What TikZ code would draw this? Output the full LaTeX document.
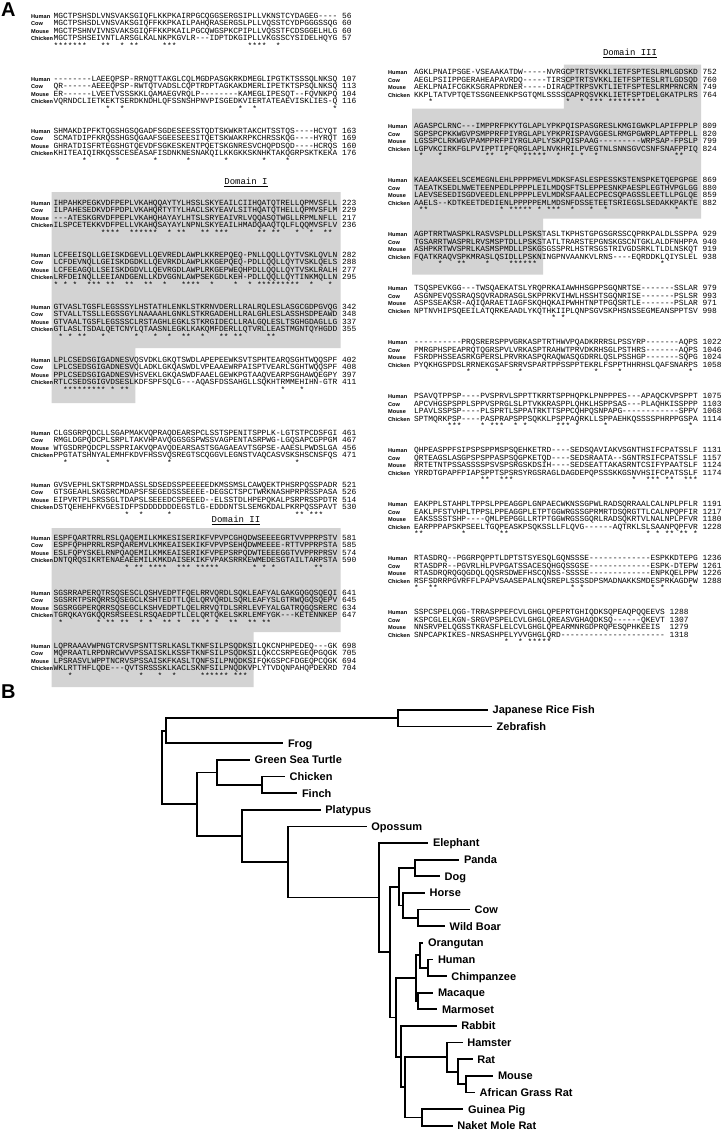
\documentclass[tikz,border=0pt]{standalone}
\usepackage{fontspec}
\setmainfont{Liberation Sans}
\setsansfont{Liberation Sans}
\setmonofont{Liberation Mono}
\usepackage{xcolor}
\definecolor{domaingray}{RGB}{211,211,211}

\newcommand{\seqfont}{\ttfamily\fontsize{7.88}{7.88}\selectfont}
\newcommand{\namefont}{\sffamily\bfseries\fontsize{5.6}{5.6}\selectfont}
\newcommand{\leaffont}{\sffamily\bfseries\fontsize{11}{11}\selectfont}
\newcommand{\domfont}{\ttfamily\fontsize{9}{9}\selectfont}
\newcommand{\panelfont}{\sffamily\bfseries\fontsize{20}{20}\selectfont}

% a star under every column where all four residues agree
\ExplSyntaxOn
\NewDocumentCommand \conserved { m m m m }
  {
    \int_step_inline:nn { \str_count:n {#1} }
      {
        \bool_if:nTF
          {
            \str_if_eq_p:ee { \str_item:nn {#1} {##1} } { \str_item:nn {#2} {##1} }
            && \str_if_eq_p:ee { \str_item:nn {#1} {##1} } { \str_item:nn {#3} {##1} }
            && \str_if_eq_p:ee { \str_item:nn {#1} {##1} } { \str_item:nn {#4} {##1} }
            && ! \str_if_eq_p:ee { \str_item:nn {#1} {##1} } { - }
          }
          { * }
          { \hphantom { * } }
      }
  }
\ExplSyntaxOff

\tikzset{
  seqtext/.style={anchor=base west, inner sep=0pt, yshift=-2.2pt, font=\seqfont},
  seqname/.style={anchor=base west, inner sep=0pt, yshift=-2pt, font=\namefont},
  domainhead/.style={inner sep=0pt, font=\domfont},
  panel/.style={anchor=base west, inner sep=0pt, font=\panelfont},
  leaf/.style={anchor=west, inner xsep=4.5pt, inner ysep=0pt, text height=7.9pt, text depth=0pt, font=\leaffont},
  branch/.style={line width=1.7pt}
}

\def\namegap{22.5}
\def\numgap{288.5}
% one block of the alignment: names, four sequences and the star line
\newcommand{\seqrows}[5]{%
  \node[seqname] (#1-lh) at (-\namegap,0) {Human};
  \node[seqname] (#1-lc) at (-\namegap,7.5) {Cow};
  \node[seqname] (#1-lm) at (-\namegap,15) {Mouse};
  \node[seqname] (#1-lk) at (-\namegap,22.5) {Chicken};
  \node[seqtext] (#1-h) at (0,0) {#2};
  \node[seqtext] (#1-c) at (0,7.5) {#3};
  \node[seqtext] (#1-m) at (0,15) {#4};
  \node[seqtext] (#1-k) at (0,22.5) {#5};
  \node[seqtext] (#1-s) at (0,30) {\conserved{#2}{#3}{#4}{#5}};
}
\newcommand{\seqnums}[5]{%
  \node[seqtext] (#1-nh) at (\numgap,0) {#2};
  \node[seqtext] (#1-nc) at (\numgap,7.5) {#3};
  \node[seqtext] (#1-nm) at (\numgap,15) {#4};
  \node[seqtext] (#1-nk) at (\numgap,22.5) {#5};
}

\begin{document}
\begin{tikzpicture}[x=1pt,y=-1pt]
  \path[use as bounding box] (0,0) rectangle (725,1130);

  % shaded domains
  \fill[domaingray] (51.5,192) -- (340.5,192) -- (340.5,348) -- (135.4,348) -- (135.4,403) -- (51.5,403) -- cycle;
  \fill[domaingray] (51.5,528) -- (340.5,528) -- (340.5,632) -- (253.7,632) -- (253.7,687) -- (51.5,687) -- cycle;
  \fill[domaingray] (563.9,64.5) -- (701,64.5) -- (701,218.5) -- (543.2,218.5) -- (543.2,274.5) -- (412,274.5) -- (412,108.5) -- (563.9,108.5) -- cycle;

  \node[panel] (panelA) at (1,16) {A};
  \node[domainhead] (dom1) at (246,182) {\underline{Domain I}};
  \node[domainhead] (dom2) at (236,520) {\underline{Domain II}};
  \node[domainhead] (dom3) at (630,53) {\underline{Domain III}};

  % left column
  \begin{scope}[shift={(53.5,16)}]
    \seqrows{b1}{MGCTPSHSDLVNSVAKSGIQFLKKPKAIRPGCQGGSERGSIPLLVKNSTCYDAGEG----}{MGCTPSHSDLVNSVAKSGIQFFKKPKAILPAHQRASERGSLPLLVQSSTCYDPGGGSSQG}{MGCTPSHNVIVNSVAKSGIQFFKKPKAILPGCQWGSPKCPIPLLVQSSTFCDSGGELHLG}{MGCTPSHSEIVNTLARSGLKALNKPKGVLR---IDPTDKGIPLLVKGSSCYSIDELHQYG}
    \seqnums{b1}{56}{60}{60}{57}
  \end{scope}
  \begin{scope}[shift={(53.5,79)}]
    \seqrows{b2}{--------LAEEQPSP-RRNQTTAKGLCQLMGDPASGKRKDMEGLIPGTKTSSSQLNKSQ}{QR------AEEEQPSP-RWTQTVADSLCQPTRDPTAGKAKDMERLIPETKTSPSQLNKSQ}{ER------LVEETVSSSKKLQAMAEGVRQLP--------KAMEGLIPESQT--FQVNKPQ}{VQRNDCLIETKEKTSERDKNDHLQFSSNSHPNVPISGEDKVIERTATEAEVISKLIES-Q}
    \seqnums{b2}{107}{113}{104}{116}
  \end{scope}
  \begin{scope}[shift={(53.5,131)}]
    \seqrows{b3}{SHMAKDIPFKTQGSHGSQGADFSGDESEESSTQDTSKWKRTAKCHTSSTQS----HCYQT}{SCMATDIPFKRQSSHGSQGAAFSGEESEESITQETSKWAKRPKCHRSSKQG----HYRQT}{GHRATDISFRTEGSHGTQEVDFSGKESKENTPQETSKGNRESVCHQPDSQD----HCRQS}{KHITEAIQIRKQSSCESEASAFISDNKNESNAKQILKKGKKSKNHKTAKQGRPSKTKEKA}
    \seqnums{b3}{163}{169}{160}{176}
  \end{scope}
  \begin{scope}[shift={(53.5,203)}]
    \seqrows{b4}{IHPAHKPEGKVDFPEPLVKAHQQAYTYLHSSLSKYEAILCIIHQATQTRELLQPMVSFLL}{ILPAHESEDKVDFPDPLVKAHQRTYTYLHACLSKYEAVLSITHQATQTHELLQPMVSFLM}{---ATESKGRVDFPEPLVKAHQHAYAYLHTSLSRYEAIVRLVQQASQTWGLLRPMLNFLL}{ILSPCETEKKVDFPELLVKAHQSAYAYLNPNLSKYEAILHMADQAAQTQLFLQQMVSFLV}
    \seqnums{b4}{223}{229}{217}{236}
  \end{scope}
  \begin{scope}[shift={(53.5,255)}]
    \seqrows{b5}{LCFEEISQLLGEISKDGEVLLQEVREDLAWPLKKREPQEQ-PNLLQQLLQYTVSKLQVLN}{LCFDEVNQLLGEISKDGDKLLQEVRKDLAWPLKKGEPQEQ-PDLLQQLLQYTVSKLQELS}{LCFEEAGQLLSEISKDGDVLLQEVRGDLAWPLRKGEPWEQHPDLLQQLLQYTVSKLRALH}{LRFDEINQLLEEIANDGENLLKDVGGNLAWPSEKGDLKEH-PDLLQQLLQYTINKMQLLN}
    \seqnums{b5}{282}{288}{277}{295}
  \end{scope}
  \begin{scope}[shift={(53.5,307)}]
    \seqrows{b6}{GTVASLTGSFLEGSSSYLHSTATHLENKLSTKRNVDERLLRALRQLESLASGCGDPGVQG}{STVALLTSSLLEGSSGYLNAAAAHLGNKLSTKRGADEHLLRALGHLESLASSHSDPEAWD}{GTVAALTGSFLEGSSSCLRSTAGHLEGKLSTKRGIDECLLRALGQLESLTSGHGDAGLLG}{GTLASLTSDALQETCNYLQTAASNLEGKLKAKQMFDERLLQTVRLLEASTMGNTQYHGDD}
    \seqnums{b6}{342}{348}{337}{355}
  \end{scope}
  \begin{scope}[shift={(53.5,360)}]
    \seqrows{b7}{LPLCSEDSGIGADNESVQSVDKLGKQTSWDLAPEPEEWKSVTSPHTEARQSGHTWQQSPF}{LPLCSEDSGIGADNESVQLADKLGKQASWDLVPEAAEWRPAISPTVEARLSGHTWQQSPF}{PPLCSEDSGIGADNESVHSVEKLGKQASWDFAAELGEWKPGTAAQVEARPSGHAWQEGPY}{RTLCSEDSGIGVDSESLKDFSPFSQLG---AQASFDSSAHGLLSQKHTRMMEHIHN-GTR}
    \seqnums{b7}{402}{408}{397}{411}
  \end{scope}
  \begin{scope}[shift={(53.5,433)}]
    \seqrows{b8}{CLGSGRPQDCLLSGAPMAKVQPRAQDEARSPCLSSTSPENITSPPLK-LGTSTPCDSFGI}{RMGLDGPQDCPLSRPLTAKVHPAVQGGSGSPWSSVAGPENTASRPWG-LGQSAPCGPPGM}{WTGSDRPQDCPLSSPRIAKVQPAVQDEARSASTSGAGAEAVTSGPSE-AAESLPWDSLGA}{PPGTATSHNYALEMHFKDVFHSSVQSREGTSCQGGVLEGNSTVAQCASVSKSHSCNSFQS}
    \seqnums{b8}{461}{467}{456}{471}
  \end{scope}
  \begin{scope}[shift={(53.5,485)}]
    \seqrows{b9}{GVSVEPHLSKTSRPMDASSLSDSEDSSPEEEEEDKMSSMSLCAWQEKTPHSRPQSSPADR}{GTSGEAHLSKGSRCMDAPSFSEGEDSSSEEEE-DEGSCTSPCTWRKNASHPRPRSSPASA}{EIPVRTPLSRSSGLTDAPSLSEEEDCSPEEED--ELSSTDLHPEPQKALPSRPRSSPDTR}{DSTQEHEHFKVGESIDFPSDDDDDDDEGSTLG-EDDDNTSLSEMGKDALPKRPQSSPAVT}
    \seqnums{b9}{521}{526}{514}{530}
  \end{scope}
  \begin{scope}[shift={(53.5,538)}]
    \seqrows{b10}{ESPFQARTRRLRSLQAQEMILKMKESISERIKFVPVPCGHQDWSEEEEGRTVVPPRPSTV}{ESPFQPHPRRLRSPQAREMVLKMKEAISEKIKFVPVPSEHQDWMEEEE-RTTVPPRPSTA}{ESLFQPYSKELRNPQAQEMILKMKEAISERIKFVPEPSRPQDWTEEEEGGTVVPPRPRSV}{DNTQRQSIKRTENAEAEEMILKMKDAISEKIKFVPAKSRRKEWMEDESGTAILTARPSTA}
    \seqnums{b10}{581}{585}{574}{590}
  \end{scope}
  \begin{scope}[shift={(53.5,593)}]
    \seqrows{b11}{SGSRRAPERQTRSQSESCLQSHVEDPTFQELRRVQRDLSQKLEAFYALGAKGQGQSQEQI}{SGSRRTPSRQRRSQSEGCLKSHTEDTTLQELQRVQRDLSQRLEAFYSLGTRWQGQSQEPV}{SGSRGGPERQRRSQSEGCLKSHVEDPTLQELRRVQTDLSRRLEVFYALGATRQGQSRERC}{TGRQKAYGKQQRSRSEESLRSQAEDPTLLELQRTQKELSKRLEMFYGK---KETENNKEP}
    \seqnums{b11}{641}{645}{634}{647}
  \end{scope}
  \begin{scope}[shift={(53.5,646)}]
    \seqrows{b12}{LQPRAAAVWPNGTCRVSPSNTTSRLKASLTKNFSILPSQDKSILQKCNPHPEDEQ---GK}{MQPRAATLRPDNRCWVVPSSAISKLKSSFTKNFSILPSQDKSILQKCCSRPEGEQPGQGK}{LPSRASVLWPPTNCRVSPSSAISKFKASLTQNFSILPNQDKSIFQKGSPCFDGEQPCQGK}{WKLRTTHFLQDE---QVTSRSSSKLKACLSKNFSILPNQDKVPLYTVDQNPAHQPDEKRD}
    \seqnums{b12}{698}{705}{694}{704}
  \end{scope}

  % right column
  \begin{scope}[shift={(414,72.5)}]
    \def\namegap{26}
    \seqrows{r1}{AGKLPNAIPSGE-VSEAAKATDW-----NVRGCPTRTSVKKLIETFSPTESLRMLGDSKD}{AEGLPSIIPPGERAHEAPAVRDQ-----TIRSCPTRTSVKKLIETFSPTESLRTLGDSQD}{AEKLPNAIFCGKKSGRAPRDNER-----DIRACPTRPSVKTLIETFSPTESLRMPRNCRN}{KKPLTATVPTQETSSGNEENKPSGTQMLSSSSCAPRQSVKKLIETFSPTDELGKATPLRS}
    \seqnums{r1}{752}{760}{749}{764}
  \end{scope}
  \begin{scope}[shift={(414,126.5)}]
    \def\namegap{26}
    \seqrows{r2}{AGASPCLRNC---IMPPRFPKYTGLAPLYPKPQISPASGRESLKMGIGWKPLAPIFPPLP}{SGPSPCPKKWGVPSMPPRFPIYRGLAPLYPKPRISPAVGGESLRMGPGWRPLAPTFPPLL}{LGSSPCLRKWGVPAMPPRFPIYRGLAPLYSKPQISPAAG---------WRPSAP-FPSLP}{LGPVKCIRKFGLPVIPPTIPFQRGLAPLNVKHRILPVEGTNLSNNSGVCSNFSNAFPPIQ}
    \seqnums{r2}{809}{820}{799}{824}
  \end{scope}
  \begin{scope}[shift={(414,180.5)}]
    \def\namegap{26}
    \seqrows{r3}{KAEAAKSEELSCEMEGNLEHLPPPPMEVLMDKSFASLESPESSKSTENSPKETQEPGPGE}{TAEATKSEDLNWETEENPEDLPPPPLEILMDQSFTSLEPPESNKPAESPLEGTHVPGLGG}{LAEVSESEDISGDVEEDLENLPPPPLEVLMDKSFAALECPECSQPAGSSLEETLLPGLQE}{AAELS--KDTKEETDEDIENLPPPPPEMLMDSNFDSSETEETSRIEGSLSEDAKKPAKTE}
    \seqnums{r3}{869}{880}{859}{882}
  \end{scope}
  \begin{scope}[shift={(414,234.5)}]
    \def\namegap{26}
    \seqrows{r4}{AGPTRRTWASPKLRASVSPLDLLPSKSTASLTKPHSTGPGSGRSSCQPRKPALDLSSPPA}{TGSARRTWASPRLRVSMSPTDLLPSKSTATLTRARSTEPGNSKGSCNTGKLALDFNHPPA}{ASHPKRTWVSPRLKASMSPMDLLPSKGSGSSPRLHSTRSGSTRIVGDSRKLTLDLNSKQT}{FQATKRAQVSPKMRASLQSIDLLPSKNINGPNVAANKVLRNS----EQRDDKLQIYSLEL}
    \seqnums{r4}{929}{940}{919}{938}
  \end{scope}
  \begin{scope}[shift={(414,288.5)}]
    \def\namegap{26}
    \seqrows{r5}{TSQSPEVKGG---TWSQAEKATSLYRQPRKAIAWHHSGPPSGQNRTSE-------SSLAR}{ASGNPEVQSSRAQSQVRADRASGLSKPPRKVIHWLHSSHTSGQNRISE-------PSLSR}{ASPSSEAKSR-AQIQARAETIAGFSKQHQKAIPWHHTNPTPGQSRTLE-------PSLAR}{NPTNVHIPSQEEILATQRKEAADLYKQTHKIIPLQNPSGVSKPHSNSSEGMEANSPPTSV}
    \seqnums{r5}{979}{993}{971}{998}
  \end{scope}
  \begin{scope}[shift={(414,342.5)}]
    \def\namegap{26}
    \seqrows{r6}{----------PRQSRERSPPVGRKASPTRTHWVPQADKRRRSLPSSYRP-------AQPS}{PMRGPHSPEAPRQTQGRSPVLVRKASPTRAHWTPRVDKRHSGLPSTHRS-------AQPS}{FSRDPHSSEASRKGPERSLPRVRKASPQRAQWASQGDRRLQSLPSSHGP-------SQPG}{PYQKHGSPDSLRRNEKGSAFSRRVSPARTPPSSPPTEKRLFSPPTHHRHSLQAFSNARPS}
    \seqnums{r6}{1022}{1046}{1024}{1058}
  \end{scope}
  \begin{scope}[shift={(414,396.5)}]
    \def\namegap{26}
    \seqrows{r7}{PSAVQTPPSP----PVSPRVLSPPTTKRRTSPPHQPKLPNPPPES---APAQCKVPSPPT}{APCVHGSPSPPLSPPVSPRGLSLPTVKKRASPPLQHKLHSPPSAS---PLAQHKISSPPP}{LPAVLSSPSP----PLSPRTLSPPATRKTTSPPCQHPQSNPAPG------------SPPV}{SPTMQRKPSP----PASPRAPSPPSQKKLPSPPAQRKLLSPPAEHKQSSSSPHRPPGSPA}
    \seqnums{r7}{1075}{1103}{1068}{1114}
  \end{scope}
  \begin{scope}[shift={(414,450.5)}]
    \def\namegap{26}
    \seqrows{r8}{QHPEASPPFSIPSPSPPMSPSQEHKETRD----SEDSQAVIAKVSGNTHSIFCPATSSLF}{QRTEAGSLASGPSPSPPASPSQGPKETQD----SEDSRAATA--SGNTRSIFCPATSSLF}{RRTETNTPSSASSSSPSVSPSRGSKDSIH----SEDSEATTAKASRNTCSIFYPAATSLF}{YRRDTGPAPFPIAPSPPTSPSRSYRGSRAGLDAGDEPQPSSSKKGSNVHSIFCPATSSLF}
    \seqnums{r8}{1131}{1157}{1124}{1174}
  \end{scope}
  \begin{scope}[shift={(414,504.5)}]
    \def\namegap{26}
    \seqrows{r9}{EAKPPLSTAHPLTPPSLPPEAGGPLGNPAECWKNSSGPWLRADSQRRAALCALNPLPFLR}{EAKLPFSTVHPLTPPSLPPEAGGPLETPTGGWRGSSGPRMRTDSQRGTTLCALNPQPFIR}{EAKSSSSTSHP----QMLPEPGGLLRTPTGGWRGSSGQRLRADSQKRTVLNALNPLPFVR}{EARPPPAPSKPSEELTGQPEASKPSQKSSLLFLQVG------AQTRKLSLSAANPQPFVR}
    \seqnums{r9}{1191}{1217}{1180}{1228}
  \end{scope}
  \begin{scope}[shift={(414,558.5)}]
    \def\namegap{26}
    \seqrows{r10}{RTASDRQ--PGGRPQPPTLDPTSTSYESQLGQNSSSE-------------ESPKKDTEPG}{RTASDPR--PGVRLHLPVPGATSSACESQHGQSSGSE-------------ESPK-DTEPW}{RTASDRQRQGQGDQLQQSRSDWEFHSCQNSS-SSSSE-------------ENPKQELPPW}{RSFSDRRPGVRFFLPAPVSAASEPALNQSREPLSSSSDPSMADNAKKSMDESPRKAGDPW}
    \seqnums{r10}{1236}{1261}{1226}{1288}
  \end{scope}
  \begin{scope}[shift={(414,612.5)}]
    \def\namegap{26}
    \def\numgap{255.4}% last block is shorter
    \seqrows{r11}{SSPCSPELQGG-TRRASPPEFCVLGHGLQPEPRTGHIQDKSQPEAQPQQEEVS}{KSPCGLELKGN-SRGVPSPELCVLGHGLQREASVGHAQDKSQ------QKEVT}{NNSRVPELQGSSTKRASFLELCVLGHGLQPEARMNRGDPRQPESQPHKEEIS}{SNPCAPKIKES-NRSASHPELYVVGHGLQRD----------------------}
    \seqnums{r11}{1288}{1307}{1279}{1318}
  \end{scope}

  % panel B: tree
  \node[panel] (panelB) at (1,698) {B};

  \coordinate (root) at (162.3,767.5);
  \coordinate (fishfrog) at (165.7,730.8);
  \coordinate (fish) at (397.7,718.3);
  \node[leaf] (ricefish) at (488,710) {Japanese Rice Fish};
  \node[leaf] (zebrafish) at (492,726.6) {Zebrafish};
  \node[leaf] (frog) at (283.3,743.2) {Frog};
  \coordinate (amniote) at (196.7,804.2);
  \coordinate (sauro) at (216.7,772.4);
  \node[leaf] (turtle) at (250,759.9) {Green Sea Turtle};
  \coordinate (bird) at (262.3,784.8);
  \node[leaf] (chicken) at (285,776.5) {Chicken};
  \node[leaf] (finch) at (297.3,793.2) {Finch};
  \coordinate (mammal) at (241.7,835.9);
  \node[leaf] (platypus) at (320.7,809.8) {Platypus};
  \coordinate (therian) at (287.7,862);
  \node[leaf] (opossum) at (366.7,826.4) {Opossum};
  \coordinate (euth) at (379.3,897.5);
  \node[leaf] (elephant) at (428.3,843) {Elephant};
  \coordinate (boreo) at (390,952);
  \coordinate (laura) at (399.3,886.7);
  \coordinate (carn) at (415,868);
  \node[leaf] (panda) at (459.3,859.7) {Panda};
  \node[leaf] (dog) at (440,876.3) {Dog};
  \coordinate (ungul) at (403.3,905.4);
  \node[leaf] (horse) at (425,892.9) {Horse};
  \coordinate (bovid) at (418.3,917.9);
  \node[leaf] (cow) at (470,909.6) {Cow};
  \node[leaf] (boar) at (445,926.2) {Wild Boar};
  \coordinate (euarch) at (395.7,1017.4);
  \coordinate (primate) at (416,978.2);
  \coordinate (ape) at (420,955.3);
  \node[leaf] (orangutan) at (423.3,942.8) {Orangutan};
  \coordinate (homo) at (428.3,967.8);
  \node[leaf] (human) at (433.3,959.5) {Human};
  \node[leaf] (chimp) at (446.7,976.1) {Chimpanzee};
  \coordinate (monkey) at (418.3,1001);
  \node[leaf] (macaque) at (433.3,992.7) {Macaque};
  \node[leaf] (marmoset) at (437.3,1009.3) {Marmoset};
  \coordinate (glires) at (401,1056.7);
  \node[leaf] (rabbit) at (456.7,1026) {Rabbit};
  \coordinate (rodent) at (405,1087.3);
  \coordinate (muroid) at (446.7,1057.2);
  \node[leaf] (hamster) at (462.7,1042.6) {Hamster};
  \coordinate (murine) at (458.3,1071.7);
  \node[leaf] (rat) at (472.7,1059.2) {Rat};
  \coordinate (mus) at (465.7,1084.2);
  \node[leaf] (mouse) at (493.3,1075.9) {Mouse};
  \node[leaf] (grassrat) at (475,1092.5) {African Grass Rat};
  \coordinate (hystrico) at (422.3,1117.4);
  \node[leaf] (guineapig) at (463.3,1109.1) {Guinea Pig};
  \node[leaf] (molerat) at (452.7,1125.8) {Naket Mole Rat};

  \foreach \p/\c in {root/fishfrog, root/amniote, fishfrog/fish, fishfrog/frog,
      fish/ricefish, fish/zebrafish, amniote/sauro, amniote/mammal,
      sauro/turtle, sauro/bird, bird/chicken, bird/finch,
      mammal/platypus, mammal/therian, therian/opossum, therian/euth,
      euth/elephant, euth/boreo, boreo/laura, boreo/euarch,
      laura/carn, laura/ungul, carn/panda, carn/dog,
      ungul/horse, ungul/bovid, bovid/cow, bovid/boar,
      euarch/primate, euarch/glires, primate/ape, primate/monkey,
      ape/orangutan, ape/homo, homo/human, homo/chimp,
      monkey/macaque, monkey/marmoset, glires/rabbit, glires/rodent,
      rodent/muroid, rodent/hystrico, muroid/hamster, muroid/murine,
      murine/rat, murine/mus, mus/mouse, mus/grassrat,
      hystrico/guineapig, hystrico/molerat}
    \draw[branch] (\p) |- (\c);
\end{tikzpicture}
\end{document}
